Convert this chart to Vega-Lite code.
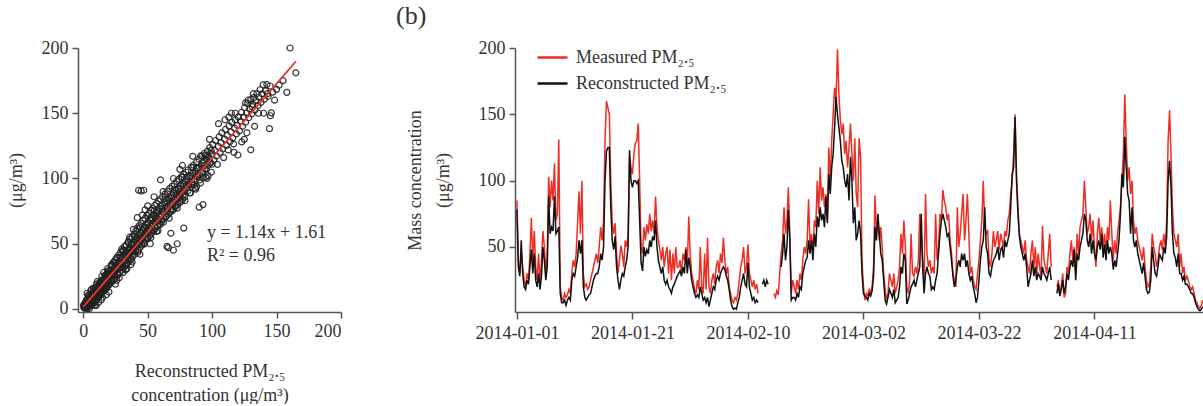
{
"$schema":"https://vega.github.io/schema/vega-lite/v6.json",
"padding":{"left":7,"top":3,"right":0,"bottom":0},
"config":{"font":"Liberation Serif","view":{"stroke":null},
"axis":{"grid":false,"labelFont":"Liberation Serif","labelFontSize":18,"labelColor":"#333","titleFont":"Liberation Serif","titleFontSize":18,"titleFontWeight":"normal","titleColor":"#333","domainColor":"#555","domainWidth":1.5,"tickColor":"#555","tickWidth":1.5,"tickSize":6,"labelPadding":4}},
"datasets":{
"scatter":[
{"x":0.5,"y":1.2},{"x":0.8,"y":3.5},{"x":1.2,"y":0.6},{"x":1.5,"y":4.8},{"x":1.9,"y":2.2},{"x":2.3,"y":6.1},{"x":2.6,"y":1.4},{"x":2.9,"y":3.9},{"x":3.1,"y":7.5},{"x":3.4,"y":2.8},{"x":3.8,"y":5.2},{"x":4.1,"y":1.9},{"x":4.4,"y":8.3},{"x":4.7,"y":4.4},{"x":5.0,"y":6.9},{"x":5.3,"y":3.1},{"x":5.6,"y":9.6},{"x":5.9,"y":5.5},{"x":6.2,"y":2.7},{"x":6.5,"y":8.1},{"x":6.8,"y":10.9},{"x":7.1,"y":5.9},{"x":7.4,"y":3.6},{"x":7.7,"y":9.2},{"x":8.0,"y":7.4},{"x":8.3,"y":12.6},{"x":8.6,"y":4.9},{"x":8.9,"y":10.1},{"x":9.2,"y":8.0},{"x":9.5,"y":13.8},{"x":9.8,"y":6.2},{"x":10.1,"y":11.7},{"x":10.4,"y":9.3},{"x":10.7,"y":15.2},{"x":11.0,"y":7.8},{"x":11.3,"y":13.4},{"x":11.6,"y":11.0},{"x":11.9,"y":16.9},{"x":12.2,"y":9.5},{"x":12.5,"y":14.1},{"x":12.8,"y":12.3},{"x":13.1,"y":18.5},{"x":13.4,"y":10.7},{"x":13.7,"y":16.2},{"x":14.0,"y":13.9},{"x":14.3,"y":20.4},{"x":14.6,"y":12.2},{"x":14.9,"y":17.6},{"x":15.2,"y":15.4},{"x":15.5,"y":22.1},{"x":15.8,"y":13.6},{"x":16.1,"y":19.8},{"x":16.4,"y":16.7},{"x":16.7,"y":23.5},{"x":17.0,"y":15.1},{"x":17.3,"y":21.2},{"x":17.6,"y":18.3},{"x":17.9,"y":25.4},{"x":18.2,"y":16.0},{"x":18.5,"y":22.7},{"x":18.8,"y":20.1},{"x":19.1,"y":27.2},{"x":19.4,"y":17.8},{"x":19.7,"y":24.0},{"x":20.0,"y":21.6},
{"x":3,"y":12},{"x":6,"y":14},{"x":9,"y":3},{"x":12,"y":5},{"x":15,"y":9},{"x":18,"y":11},{"x":5,"y":0.5},{"x":10,"y":2.5},{"x":14,"y":7},{"x":20,"y":13},{"x":8,"y":16},{"x":16,"y":28},{"x":19,"y":31},{"x":11,"y":21},
{"x":0.3,"y":2.9},{"x":1.0,"y":1.0},{"x":1.7,"y":3.3},{"x":2.1,"y":0.8},{"x":2.4,"y":4.0},{"x":3.6,"y":4.4},{"x":4.9,"y":10.6},{"x":5.5,"y":7.0},{"x":6.9,"y":6.8},{"x":7.5,"y":13.1},{"x":8.7,"y":9.4},{"x":9.9,"y":15.8},{"x":10.6,"y":10.5},{"x":11.5,"y":18.2},{"x":12.3,"y":13.8},{"x":13.5,"y":13.0},{"x":14.2,"y":22.0},{"x":15.4,"y":19.0},{"x":16.0,"y":16.0},{"x":17.2,"y":26.0},{"x":18.4,"y":18.8},{"x":19.9,"y":19.0},{"x":3.3,"y":0.5},{"x":4.8,"y":2.5},{"x":6.6,"y":4.5},{"x":8.1,"y":6.3},{"x":9.4,"y":12.8},{"x":11.8,"y":8.9},{"x":13.3,"y":20.7},{"x":16.6,"y":14.3},{"x":18.9,"y":28.1},
{"x":2.7,"y":7.0},{"x":3.0,"y":1.9},{"x":3.9,"y":10.5},{"x":4.4,"y":5.7},{"x":5.0,"y":7.7},{"x":5.2,"y":2.9},{"x":6.0,"y":11.4},{"x":6.4,"y":15.1},{"x":7.2,"y":7.6},{"x":7.8,"y":11.8},{"x":8.3,"y":7.1},{"x":9.1,"y":15.6},{"x":9.6,"y":11.9},{"x":10.3,"y":19.1},{"x":10.9,"y":11.2},{"x":11.2,"y":16.7},{"x":12.0,"y":11.0},{"x":12.7,"y":19.9},{"x":13.1,"y":16.7},{"x":13.9,"y":14.1},{"x":14.5,"y":25.1},{"x":15.0,"y":17.2},{"x":15.7,"y":22.1},{"x":16.2,"y":15.1},{"x":16.9,"y":25.3},{"x":17.5,"y":20.9},{"x":18.0,"y":24.0},{"x":18.8,"y":19.1},{"x":19.3,"y":29.3},{"x":20.0,"y":22.4},
{"x":20.6,"y":26.0},{"x":21.3,"y":29.4},{"x":21.9,"y":21.8},{"x":22.4,"y":33.7},{"x":23.0,"y":26.7},{"x":23.8,"y":30.9},{"x":24.5,"y":25.8},{"x":25.0,"y":35.0},{"x":25.6,"y":30.5},{"x":26.3,"y":39.6},{"x":26.9,"y":26.8},{"x":27.4,"y":34.2},{"x":28.1,"y":31.2},{"x":28.8,"y":39.7},{"x":29.2,"y":34.4},{"x":30.0,"y":38.9},{"x":30.7,"y":32.2},{"x":31.1,"y":44.3},{"x":31.9,"y":36.2},{"x":32.5,"y":41.4},{"x":33.2,"y":33.3},{"x":33.7,"y":44.0},{"x":34.4,"y":41.4},{"x":35.0,"y":51.0},{"x":35.6,"y":39.2},{"x":36.3,"y":44.9},{"x":36.9,"y":38.3},{"x":37.4,"y":50.3},{"x":38.1,"y":44.1},{"x":38.7,"y":49.0},{"x":39.3,"y":43.7},{"x":40.0,"y":55.6},
{"x":40.6,"y":43.7},{"x":41.3,"y":49.7},{"x":41.9,"y":54.4},{"x":42.5,"y":43.5},{"x":43.2,"y":53.3},{"x":43.8,"y":50.2},{"x":44.4,"y":62.4},{"x":45.1,"y":49.6},{"x":45.7,"y":57.8},{"x":46.2,"y":54.1},{"x":46.9,"y":61.9},{"x":47.5,"y":49.9},{"x":48.1,"y":58.4},{"x":48.8,"y":55.1},{"x":49.3,"y":65.5},{"x":50.0,"y":54.1},{"x":50.7,"y":62.8},{"x":51.2,"y":59.6},{"x":51.9,"y":69.8},{"x":52.5,"y":54.7},{"x":53.1,"y":63.6},{"x":53.8,"y":68.5},{"x":54.4,"y":60.5},{"x":55.1,"y":75.4},{"x":55.7,"y":63.4},{"x":56.3,"y":69.7},{"x":57.0,"y":59.4},{"x":57.6,"y":73.6},{"x":58.3,"y":67.3},{"x":58.9,"y":71.5},{"x":59.6,"y":64.6},
{"x":60.2,"y":78.8},{"x":60.9,"y":68.7},{"x":61.5,"y":76.4},{"x":62.2,"y":66.5},{"x":62.8,"y":74.4},{"x":63.5,"y":84.5},{"x":64.1,"y":70.9},{"x":64.8,"y":78.5},{"x":65.4,"y":75.2},{"x":66.1,"y":84.1},{"x":66.7,"y":69.6},{"x":67.4,"y":80.6},{"x":68.0,"y":76.5},{"x":68.7,"y":85.3},{"x":69.3,"y":75.5},{"x":70.0,"y":81.7},{"x":70.8,"y":91.7},{"x":71.5,"y":79.1},{"x":72.3,"y":87.7},{"x":73.0,"y":77.3},{"x":73.8,"y":91.7},{"x":74.5,"y":85.1},{"x":75.3,"y":90.0},{"x":76.0,"y":82.5},{"x":76.8,"y":101.0},{"x":77.5,"y":87.1},{"x":78.3,"y":95.3},{"x":79.0,"y":83.1},{"x":79.8,"y":94.4},
{"x":80.5,"y":101.3},{"x":81.3,"y":90.7},{"x":82.0,"y":95.7},{"x":82.8,"y":89.1},{"x":83.5,"y":102.0},{"x":84.3,"y":95.8},{"x":85.0,"y":108.3},{"x":85.8,"y":95.0},{"x":86.5,"y":102.7},{"x":87.3,"y":91.8},{"x":88.0,"y":108.3},{"x":88.8,"y":102.0},{"x":89.5,"y":107.5},{"x":90.3,"y":98.9},{"x":91.0,"y":117.3},{"x":91.8,"y":103.9},{"x":92.5,"y":111.9},{"x":93.3,"y":100.7},{"x":94.0,"y":109.9},{"x":94.8,"y":117.8},{"x":95.5,"y":107.3},{"x":96.3,"y":117.3},{"x":97.0,"y":102.2},{"x":97.8,"y":115.1},{"x":98.5,"y":112.3},{"x":99.3,"y":121.5},{"x":100.0,"y":110.9},
{"x":20.3,"y":26.5},{"x":20.7,"y":19.2},{"x":21.1,"y":29.8},{"x":21.4,"y":23.0},{"x":21.8,"y":33.1},{"x":22.2,"y":25.4},{"x":22.5,"y":20.9},{"x":22.9,"y":28.7},{"x":23.3,"y":35.6},{"x":23.6,"y":27.1},{"x":24.0,"y":22.8},{"x":24.3,"y":31.5},{"x":24.7,"y":37.4},{"x":25.1,"y":29.2},{"x":25.4,"y":24.6},{"x":25.8,"y":33.9},{"x":26.2,"y":39.0},{"x":26.5,"y":30.8},{"x":26.9,"y":26.1},{"x":27.3,"y":35.7},{"x":27.6,"y":41.3},{"x":28.0,"y":32.5},{"x":28.4,"y":28.0},{"x":28.7,"y":37.2},{"x":29.1,"y":43.6},{"x":29.5,"y":34.4},{"x":29.8,"y":29.7},{"x":30.2,"y":39.5},{"x":30.6,"y":45.1},{"x":30.9,"y":36.0},{"x":31.3,"y":31.2},{"x":31.7,"y":41.4},{"x":32.0,"y":47.8},{"x":32.4,"y":37.9},{"x":32.8,"y":33.5},{"x":33.1,"y":43.0},{"x":33.5,"y":49.2},{"x":33.9,"y":39.6},{"x":34.2,"y":35.1},{"x":34.6,"y":45.3},{"x":35.0,"y":51.7},{"x":35.3,"y":41.2},{"x":35.7,"y":36.4},{"x":36.1,"y":47.0},{"x":36.4,"y":53.6},{"x":36.8,"y":43.5},{"x":37.2,"y":38.2},{"x":37.5,"y":48.8},{"x":37.9,"y":55.0},{"x":38.3,"y":45.1},{"x":38.6,"y":40.3},{"x":39.0,"y":50.9},{"x":39.4,"y":57.2},{"x":39.7,"y":46.8},{"x":40.0,"y":42.1},
{"x":22,"y":34},{"x":25,"y":19},{"x":28,"y":24},{"x":31,"y":28},{"x":34,"y":31},{"x":37,"y":34},{"x":24,"y":36},{"x":30,"y":46},{"x":36,"y":55},{"x":39,"y":61},{"x":26,"y":22},{"x":33,"y":30},{"x":38,"y":36},
{"x":40.4,"y":52.3},{"x":40.8,"y":59.5},{"x":41.2,"y":48.1},{"x":41.5,"y":54.6},{"x":41.9,"y":61.8},{"x":42.3,"y":50.2},{"x":42.7,"y":44.9},{"x":43.0,"y":56.4},{"x":43.4,"y":63.7},{"x":43.8,"y":52.0},{"x":44.2,"y":47.3},{"x":44.5,"y":58.1},{"x":44.9,"y":65.5},{"x":45.3,"y":54.1},{"x":45.7,"y":49.0},{"x":46.0,"y":60.2},{"x":46.4,"y":67.9},{"x":46.8,"y":56.0},{"x":47.2,"y":50.8},{"x":47.5,"y":62.3},{"x":47.9,"y":69.4},{"x":48.3,"y":57.7},{"x":48.7,"y":52.9},{"x":49.0,"y":64.0},{"x":49.4,"y":71.6},{"x":49.8,"y":59.9},{"x":50.2,"y":54.5},{"x":50.5,"y":66.1},{"x":50.9,"y":73.2},{"x":51.3,"y":61.6},{"x":51.7,"y":56.3},{"x":52.0,"y":67.9},{"x":52.4,"y":75.5},{"x":52.8,"y":63.4},{"x":53.2,"y":58.2},{"x":53.5,"y":69.8},{"x":53.9,"y":77.0},{"x":54.3,"y":65.3},{"x":54.7,"y":60.0},{"x":55.0,"y":71.5},{"x":55.4,"y":79.3},{"x":55.8,"y":67.1},{"x":56.2,"y":61.7},{"x":56.5,"y":73.6},{"x":56.9,"y":80.8},{"x":57.3,"y":68.9},{"x":57.7,"y":63.5},{"x":58.0,"y":75.2},{"x":58.4,"y":82.7},{"x":58.8,"y":70.8},{"x":59.2,"y":65.4},{"x":59.5,"y":77.1},{"x":59.9,"y":84.3},
{"x":43,"y":91},{"x":45,"y":90.5},{"x":47,"y":91},{"x":60,"y":99},{"x":42,"y":70},{"x":48,"y":76},{"x":55,"y":86},{"x":44,"y":42},{"x":52,"y":50},{"x":58,"y":60},{"x":46,"y":72},{"x":50,"y":79},
{"x":60.3,"y":72.6},{"x":60.8,"y":67.0},{"x":61.2,"y":79.4},{"x":61.7,"y":86.2},{"x":62.1,"y":74.4},{"x":62.6,"y":69.1},{"x":63.0,"y":81.3},{"x":63.5,"y":88.0},{"x":63.9,"y":76.5},{"x":64.4,"y":70.8},{"x":64.8,"y":83.0},{"x":65.3,"y":90.1},{"x":65.7,"y":78.2},{"x":66.2,"y":72.7},{"x":66.6,"y":85.1},{"x":67.1,"y":92.3},{"x":67.5,"y":80.0},{"x":68.0,"y":74.5},{"x":68.4,"y":86.9},{"x":68.9,"y":94.0},{"x":69.3,"y":81.8},{"x":69.8,"y":76.3},{"x":70.2,"y":88.7},{"x":70.7,"y":95.6},{"x":71.1,"y":83.9},{"x":71.6,"y":78.4},{"x":72.0,"y":90.5},{"x":72.5,"y":97.8},{"x":72.9,"y":85.6},{"x":73.4,"y":80.1},{"x":73.8,"y":92.4},{"x":74.3,"y":99.5},{"x":74.7,"y":87.4},{"x":75.2,"y":81.9},{"x":75.6,"y":94.2},{"x":76.1,"y":101.3},{"x":76.5,"y":89.2},{"x":77.0,"y":84.0},{"x":77.4,"y":96.0},{"x":77.9,"y":103.1},{"x":78.3,"y":91.0},{"x":78.8,"y":85.7},{"x":79.2,"y":97.9},{"x":79.7,"y":104.8},
{"x":65,"y":48},{"x":70,"y":45},{"x":73,"y":50},{"x":66,"y":47},{"x":78,"y":62},{"x":68,"y":58},{"x":75,"y":107},{"x":62,"y":90},{"x":70,"y":100},{"x":77,"y":110},
{"x":80.2,"y":93.0},{"x":80.8,"y":99.8},{"x":81.4,"y":106.5},{"x":82.0,"y":95.2},{"x":82.6,"y":101.6},{"x":83.2,"y":88.9},{"x":83.8,"y":108.7},{"x":84.4,"y":97.3},{"x":85.0,"y":103.9},{"x":85.6,"y":110.2},{"x":86.2,"y":99.0},{"x":86.8,"y":92.8},{"x":87.4,"y":105.7},{"x":88.0,"y":112.6},{"x":88.6,"y":101.2},{"x":89.2,"y":107.9},{"x":89.8,"y":114.8},{"x":90.4,"y":103.0},{"x":91.0,"y":96.5},{"x":91.6,"y":110.0},{"x":92.2,"y":117.1},{"x":92.8,"y":105.4},{"x":93.4,"y":112.3},{"x":94.0,"y":119.2},{"x":94.6,"y":107.6},{"x":95.2,"y":101.0},{"x":95.8,"y":114.5},{"x":96.4,"y":121.0},{"x":97.0,"y":110.1},{"x":97.6,"y":116.4},{"x":98.2,"y":123.7},{"x":98.8,"y":112.0},{"x":99.4,"y":104.8},{"x":100.0,"y":118.9},
{"x":90,"y":78},{"x":93,"y":80},{"x":85,"y":117},{"x":98,"y":130},{"x":88,"y":94},{"x":96,"y":100},
{"x":100.6,"y":126.0},{"x":101.3,"y":114.3},{"x":102.0,"y":121.5},{"x":102.7,"y":129.1},{"x":103.4,"y":117.2},{"x":104.1,"y":110.8},{"x":104.8,"y":124.6},{"x":105.5,"y":131.9},{"x":106.2,"y":120.0},{"x":106.9,"y":127.5},{"x":107.6,"y":135.0},{"x":108.3,"y":122.6},{"x":109.0,"y":116.0},{"x":109.7,"y":130.2},{"x":110.4,"y":137.6},{"x":111.1,"y":125.4},{"x":111.8,"y":133.0},{"x":112.5,"y":121.9},{"x":113.2,"y":140.3},{"x":113.9,"y":128.3},{"x":114.6,"y":135.7},{"x":115.3,"y":143.0},{"x":116.0,"y":131.0},{"x":116.7,"y":126.4},{"x":117.4,"y":138.6},{"x":118.1,"y":144.9},{"x":118.8,"y":134.2},{"x":119.5,"y":140.8},
{"x":120,"y":118},{"x":117,"y":120},{"x":105,"y":142},{"x":110,"y":145},{"x":115,"y":150},{"x":113,"y":147},{"x":118,"y":150},
{"x":120.4,"y":147.2},{"x":121.2,"y":136.5},{"x":122.0,"y":143.8},{"x":122.8,"y":150.6},{"x":123.6,"y":140.0},{"x":124.4,"y":147.0},{"x":125.2,"y":154.4},{"x":126.0,"y":143.1},{"x":126.8,"y":150.2},{"x":127.6,"y":157.6},{"x":128.4,"y":146.5},{"x":129.2,"y":153.3},{"x":130.0,"y":160.4},{"x":130.8,"y":149.6},{"x":131.6,"y":156.8},{"x":132.4,"y":162.0},{"x":133.2,"y":152.5},{"x":134.0,"y":159.7},{"x":134.8,"y":165.1},{"x":135.6,"y":155.9},{"x":136.4,"y":162.3},{"x":137.2,"y":168.0},{"x":138.0,"y":158.4},{"x":138.8,"y":164.9},{"x":139.6,"y":171.8},
{"x":130,"y":122},{"x":125,"y":130},{"x":123,"y":128},{"x":127,"y":135},{"x":133,"y":140},{"x":131,"y":155},{"x":128,"y":160},{"x":136,"y":150},{"x":126,"y":158},{"x":132,"y":165},
{"x":140.5,"y":160.8},{"x":141.5,"y":167.2},{"x":142.5,"y":172.0},{"x":143.5,"y":163.0},{"x":144.5,"y":138.2},{"x":145.2,"y":148.1},{"x":146.0,"y":150.3},{"x":145.0,"y":170.9},{"x":147.0,"y":166.2},{"x":148.5,"y":160.0},{"x":150.0,"y":168.3},{"x":152.0,"y":171.5},{"x":155.0,"y":175.0},{"x":158.0,"y":166.0},{"x":165.0,"y":181.0},{"x":160.5,"y":200.0},{"x":143,"y":165},{"x":140,"y":150}
],
"ts":[
{"t":"2014-01-01T00:00","m":85,"r":78},{"t":"2014-01-01T06:00","m":40,"r":35},{"t":"2014-01-01T12:00","m":30,"r":28},{"t":"2014-01-01T18:00","m":45,"r":55},
{"t":"2014-01-02T00:00","m":35,"r":30},{"t":"2014-01-02T06:00","m":25,"r":20},{"t":"2014-01-02T12:00","m":20,"r":18},{"t":"2014-01-02T18:00","m":30,"r":25},
{"t":"2014-01-03T00:00","m":25,"r":22},{"t":"2014-01-03T06:00","m":45,"r":35},{"t":"2014-01-03T12:00","m":72,"r":48},{"t":"2014-01-03T18:00","m":40,"r":30},
{"t":"2014-01-04T00:00","m":62,"r":45},{"t":"2014-01-04T06:00","m":35,"r":25},{"t":"2014-01-04T12:00","m":25,"r":20},{"t":"2014-01-04T18:00","m":45,"r":30},
{"t":"2014-01-05T00:00","m":22,"r":18},{"t":"2014-01-05T06:00","m":40,"r":28},{"t":"2014-01-05T12:00","m":62,"r":50},{"t":"2014-01-05T18:00","m":50,"r":40},
{"t":"2014-01-06T00:00","m":30,"r":25},{"t":"2014-01-06T06:00","m":45,"r":35},{"t":"2014-01-06T12:00","m":103,"r":88},{"t":"2014-01-06T18:00","m":80,"r":60},
{"t":"2014-01-07T00:00","m":100,"r":65},{"t":"2014-01-07T06:00","m":85,"r":62},{"t":"2014-01-07T12:00","m":113,"r":88},{"t":"2014-01-07T18:00","m":70,"r":60},
{"t":"2014-01-08T00:00","m":75,"r":62},{"t":"2014-01-08T06:00","m":131,"r":65},{"t":"2014-01-08T12:00","m":20,"r":15},{"t":"2014-01-08T18:00","m":12,"r":8},
{"t":"2014-01-09T00:00","m":10,"r":8},{"t":"2014-01-09T06:00","m":15,"r":10},{"t":"2014-01-09T12:00","m":12,"r":6},{"t":"2014-01-09T18:00","m":14,"r":10},
{"t":"2014-01-10T00:00","m":18,"r":12},{"t":"2014-01-10T06:00","m":15,"r":10},{"t":"2014-01-10T12:00","m":30,"r":25},{"t":"2014-01-10T18:00","m":40,"r":30},
{"t":"2014-01-11T00:00","m":35,"r":28},{"t":"2014-01-11T06:00","m":45,"r":35},{"t":"2014-01-11T12:00","m":68,"r":42},{"t":"2014-01-11T18:00","m":92,"r":55},
{"t":"2014-01-12T00:00","m":60,"r":45},{"t":"2014-01-12T06:00","m":100,"r":55},{"t":"2014-01-12T12:00","m":30,"r":20},{"t":"2014-01-12T18:00","m":20,"r":12},
{"t":"2014-01-13T00:00","m":22,"r":10},{"t":"2014-01-13T06:00","m":18,"r":12},{"t":"2014-01-13T12:00","m":20,"r":14},{"t":"2014-01-13T18:00","m":25,"r":15},
{"t":"2014-01-14T00:00","m":30,"r":20},{"t":"2014-01-14T06:00","m":35,"r":25},{"t":"2014-01-14T12:00","m":40,"r":28},{"t":"2014-01-14T18:00","m":45,"r":30},
{"t":"2014-01-15T00:00","m":38,"r":30},{"t":"2014-01-15T06:00","m":50,"r":35},{"t":"2014-01-15T12:00","m":65,"r":45},{"t":"2014-01-15T18:00","m":55,"r":40},
{"t":"2014-01-16T00:00","m":70,"r":50},{"t":"2014-01-16T06:00","m":130,"r":100},{"t":"2014-01-16T12:00","m":160,"r":122},{"t":"2014-01-16T18:00","m":155,"r":125},
{"t":"2014-01-17T00:00","m":150,"r":125},{"t":"2014-01-17T06:00","m":100,"r":80},{"t":"2014-01-17T12:00","m":68,"r":55},{"t":"2014-01-17T18:00","m":60,"r":48},
{"t":"2014-01-18T00:00","m":68,"r":58},{"t":"2014-01-18T06:00","m":45,"r":35},{"t":"2014-01-18T12:00","m":30,"r":25},{"t":"2014-01-18T18:00","m":40,"r":18},
{"t":"2014-01-19T00:00","m":51,"r":25},{"t":"2014-01-19T06:00","m":45,"r":30},{"t":"2014-01-19T12:00","m":35,"r":28},{"t":"2014-01-19T18:00","m":55,"r":35},
{"t":"2014-01-20T00:00","m":50,"r":40},{"t":"2014-01-20T06:00","m":60,"r":50},{"t":"2014-01-20T12:00","m":118,"r":123},{"t":"2014-01-20T18:00","m":110,"r":100},
{"t":"2014-01-21T00:00","m":105,"r":95},{"t":"2014-01-21T06:00","m":120,"r":100},{"t":"2014-01-21T12:00","m":128,"r":100},{"t":"2014-01-21T18:00","m":130,"r":98},
{"t":"2014-01-22T00:00","m":143,"r":100},{"t":"2014-01-22T06:00","m":100,"r":70},{"t":"2014-01-22T12:00","m":50,"r":38},{"t":"2014-01-22T18:00","m":45,"r":32},
{"t":"2014-01-23T00:00","m":65,"r":50},{"t":"2014-01-23T06:00","m":55,"r":43},{"t":"2014-01-23T12:00","m":67,"r":48},{"t":"2014-01-23T18:00","m":60,"r":45},
{"t":"2014-01-24T00:00","m":75,"r":55},{"t":"2014-01-24T06:00","m":62,"r":50},{"t":"2014-01-24T12:00","m":70,"r":58},{"t":"2014-01-24T18:00","m":60,"r":55},
{"t":"2014-01-25T00:00","m":88,"r":70},{"t":"2014-01-25T06:00","m":65,"r":50},{"t":"2014-01-25T12:00","m":55,"r":40},{"t":"2014-01-25T18:00","m":48,"r":35},
{"t":"2014-01-26T00:00","m":40,"r":30},{"t":"2014-01-26T06:00","m":50,"r":35},{"t":"2014-01-26T12:00","m":35,"r":25},{"t":"2014-01-26T18:00","m":45,"r":22},
{"t":"2014-01-27T00:00","m":50,"r":25},{"t":"2014-01-27T06:00","m":30,"r":20},{"t":"2014-01-27T12:00","m":48,"r":18},{"t":"2014-01-27T18:00","m":25,"r":15},
{"t":"2014-01-28T00:00","m":45,"r":20},{"t":"2014-01-28T06:00","m":30,"r":22},{"t":"2014-01-28T12:00","m":50,"r":25},{"t":"2014-01-28T18:00","m":35,"r":28},
{"t":"2014-01-29T00:00","m":35,"r":30},{"t":"2014-01-29T06:00","m":40,"r":32},{"t":"2014-01-29T12:00","m":30,"r":28},{"t":"2014-01-29T18:00","m":45,"r":35},
{"t":"2014-01-30T00:00","m":40,"r":30},{"t":"2014-01-30T06:00","m":50,"r":48},{"t":"2014-01-30T12:00","m":35,"r":30},{"t":"2014-01-30T18:00","m":73,"r":42},
{"t":"2014-01-31T00:00","m":45,"r":35},{"t":"2014-01-31T06:00","m":30,"r":25},{"t":"2014-01-31T12:00","m":25,"r":20},{"t":"2014-01-31T18:00","m":18,"r":15},
{"t":"2014-02-01T00:00","m":15,"r":12},{"t":"2014-02-01T06:00","m":25,"r":14},{"t":"2014-02-01T12:00","m":18,"r":12},{"t":"2014-02-01T18:00","m":50,"r":20},
{"t":"2014-02-02T00:00","m":20,"r":15},{"t":"2014-02-02T06:00","m":15,"r":10},{"t":"2014-02-02T12:00","m":45,"r":12},{"t":"2014-02-02T18:00","m":18,"r":8},
{"t":"2014-02-03T00:00","m":57,"r":12},{"t":"2014-02-03T06:00","m":20,"r":5},{"t":"2014-02-03T12:00","m":15,"r":10},{"t":"2014-02-03T18:00","m":25,"r":15},
{"t":"2014-02-04T00:00","m":30,"r":20},{"t":"2014-02-04T06:00","m":22,"r":18},{"t":"2014-02-04T12:00","m":35,"r":25},{"t":"2014-02-04T18:00","m":40,"r":28},
{"t":"2014-02-05T00:00","m":30,"r":25},{"t":"2014-02-05T06:00","m":45,"r":30},{"t":"2014-02-05T12:00","m":38,"r":33},{"t":"2014-02-05T18:00","m":57,"r":35},
{"t":"2014-02-06T00:00","m":40,"r":33},{"t":"2014-02-06T06:00","m":30,"r":28},{"t":"2014-02-06T12:00","m":35,"r":25},{"t":"2014-02-06T18:00","m":20,"r":18},
{"t":"2014-02-07T00:00","m":15,"r":10},{"t":"2014-02-07T06:00","m":10,"r":5},{"t":"2014-02-07T12:00","m":8,"r":3},{"t":"2014-02-07T18:00","m":12,"r":4},
{"t":"2014-02-08T00:00","m":10,"r":3},{"t":"2014-02-08T06:00","m":15,"r":8},{"t":"2014-02-08T12:00","m":25,"r":12},{"t":"2014-02-08T18:00","m":35,"r":20},
{"t":"2014-02-09T00:00","m":40,"r":25},{"t":"2014-02-09T06:00","m":50,"r":30},{"t":"2014-02-09T12:00","m":30,"r":22},{"t":"2014-02-09T18:00","m":35,"r":20},
{"t":"2014-02-10T00:00","m":52,"r":38},{"t":"2014-02-10T06:00","m":30,"r":20},{"t":"2014-02-10T12:00","m":25,"r":15},{"t":"2014-02-10T18:00","m":20,"r":10},
{"t":"2014-02-11T00:00","m":25,"r":12},{"t":"2014-02-11T06:00","m":18,"r":8},{"t":"2014-02-11T12:00","m":22,"r":10},{"t":"2014-02-11T18:00","m":15,"r":8},
{"t":"2014-02-12T00:00","m":null,"r":null},{"t":"2014-02-12T06:00","m":null,"r":null},{"t":"2014-02-12T12:00","m":null,"r":22},{"t":"2014-02-12T18:00","m":null,"r":25},
{"t":"2014-02-13T00:00","m":null,"r":20},{"t":"2014-02-13T06:00","m":null,"r":25},{"t":"2014-02-13T12:00","m":null,"r":22},{"t":"2014-02-13T18:00","m":null,"r":null},
{"t":"2014-02-14T00:00","m":null,"r":null},{"t":"2014-02-14T06:00","m":null,"r":null},{"t":"2014-02-14T12:00","m":15,"r":null},{"t":"2014-02-14T18:00","m":12,"r":null},
{"t":"2014-02-15T00:00","m":17,"r":null},{"t":"2014-02-15T06:00","m":14,"r":null},{"t":"2014-02-15T12:00","m":30,"r":null},{"t":"2014-02-15T18:00","m":45,"r":35},
{"t":"2014-02-16T00:00","m":55,"r":45},{"t":"2014-02-16T06:00","m":80,"r":60},{"t":"2014-02-16T12:00","m":60,"r":40},{"t":"2014-02-16T18:00","m":70,"r":50},
{"t":"2014-02-17T00:00","m":95,"r":78},{"t":"2014-02-17T06:00","m":60,"r":55},{"t":"2014-02-17T12:00","m":15,"r":10},{"t":"2014-02-17T18:00","m":25,"r":12},
{"t":"2014-02-18T00:00","m":20,"r":12},{"t":"2014-02-18T06:00","m":15,"r":10},{"t":"2014-02-18T12:00","m":25,"r":15},{"t":"2014-02-18T18:00","m":18,"r":12},
{"t":"2014-02-19T00:00","m":30,"r":20},{"t":"2014-02-19T06:00","m":25,"r":18},{"t":"2014-02-19T12:00","m":40,"r":30},{"t":"2014-02-19T18:00","m":50,"r":35},
{"t":"2014-02-20T00:00","m":45,"r":40},{"t":"2014-02-20T06:00","m":55,"r":42},{"t":"2014-02-20T12:00","m":86,"r":55},{"t":"2014-02-20T18:00","m":50,"r":45},
{"t":"2014-02-21T00:00","m":60,"r":55},{"t":"2014-02-21T06:00","m":45,"r":40},{"t":"2014-02-21T12:00","m":70,"r":60},{"t":"2014-02-21T18:00","m":65,"r":50},
{"t":"2014-02-22T00:00","m":100,"r":73},{"t":"2014-02-22T06:00","m":75,"r":65},{"t":"2014-02-22T12:00","m":110,"r":80},{"t":"2014-02-22T18:00","m":85,"r":70},
{"t":"2014-02-23T00:00","m":95,"r":75},{"t":"2014-02-23T06:00","m":80,"r":65},{"t":"2014-02-23T12:00","m":90,"r":88},{"t":"2014-02-23T18:00","m":70,"r":68},
{"t":"2014-02-24T00:00","m":125,"r":105},{"t":"2014-02-24T06:00","m":100,"r":90},{"t":"2014-02-24T12:00","m":130,"r":110},{"t":"2014-02-24T18:00","m":150,"r":120},
{"t":"2014-02-25T00:00","m":170,"r":140},{"t":"2014-02-25T06:00","m":160,"r":163},{"t":"2014-02-25T12:00","m":199,"r":150},{"t":"2014-02-25T18:00","m":165,"r":140},
{"t":"2014-02-26T00:00","m":146,"r":130},{"t":"2014-02-26T06:00","m":135,"r":115},{"t":"2014-02-26T12:00","m":143,"r":110},{"t":"2014-02-26T18:00","m":120,"r":100},
{"t":"2014-02-27T00:00","m":130,"r":95},{"t":"2014-02-27T06:00","m":110,"r":105},{"t":"2014-02-27T12:00","m":125,"r":85},{"t":"2014-02-27T18:00","m":143,"r":118},
{"t":"2014-02-28T00:00","m":120,"r":100},{"t":"2014-02-28T06:00","m":100,"r":68},{"t":"2014-02-28T12:00","m":132,"r":80},{"t":"2014-02-28T18:00","m":90,"r":55},
{"t":"2014-03-01T00:00","m":80,"r":60},{"t":"2014-03-01T06:00","m":132,"r":70},{"t":"2014-03-01T12:00","m":118,"r":60},{"t":"2014-03-01T18:00","m":40,"r":30},
{"t":"2014-03-02T00:00","m":20,"r":15},{"t":"2014-03-02T06:00","m":10,"r":13},{"t":"2014-03-02T12:00","m":15,"r":12},{"t":"2014-03-02T18:00","m":13,"r":10},
{"t":"2014-03-03T00:00","m":18,"r":15},{"t":"2014-03-03T06:00","m":15,"r":13},{"t":"2014-03-03T12:00","m":20,"r":17},{"t":"2014-03-03T18:00","m":35,"r":28},
{"t":"2014-03-04T00:00","m":89,"r":65},{"t":"2014-03-04T06:00","m":60,"r":55},{"t":"2014-03-04T12:00","m":70,"r":75},{"t":"2014-03-04T18:00","m":55,"r":60},
{"t":"2014-03-05T00:00","m":65,"r":45},{"t":"2014-03-05T06:00","m":50,"r":40},{"t":"2014-03-05T12:00","m":30,"r":25},{"t":"2014-03-05T18:00","m":18,"r":10},
{"t":"2014-03-06T00:00","m":10,"r":7},{"t":"2014-03-06T06:00","m":15,"r":12},{"t":"2014-03-06T12:00","m":30,"r":18},{"t":"2014-03-06T18:00","m":25,"r":15},
{"t":"2014-03-07T00:00","m":20,"r":12},{"t":"2014-03-07T06:00","m":30,"r":18},{"t":"2014-03-07T12:00","m":15,"r":8},{"t":"2014-03-07T18:00","m":20,"r":10},
{"t":"2014-03-08T00:00","m":25,"r":12},{"t":"2014-03-08T06:00","m":35,"r":20},{"t":"2014-03-08T12:00","m":60,"r":35},{"t":"2014-03-08T18:00","m":45,"r":30},
{"t":"2014-03-09T00:00","m":70,"r":45},{"t":"2014-03-09T06:00","m":50,"r":40},{"t":"2014-03-09T12:00","m":20,"r":7},{"t":"2014-03-09T18:00","m":15,"r":10},
{"t":"2014-03-10T00:00","m":25,"r":15},{"t":"2014-03-10T06:00","m":60,"r":20},{"t":"2014-03-10T12:00","m":30,"r":22},{"t":"2014-03-10T18:00","m":28,"r":25},
{"t":"2014-03-11T00:00","m":35,"r":20},{"t":"2014-03-11T06:00","m":30,"r":25},{"t":"2014-03-11T12:00","m":40,"r":30},{"t":"2014-03-11T18:00","m":75,"r":35},
{"t":"2014-03-12T00:00","m":60,"r":75},{"t":"2014-03-12T06:00","m":40,"r":35},{"t":"2014-03-12T12:00","m":25,"r":15},{"t":"2014-03-12T18:00","m":90,"r":30},
{"t":"2014-03-13T00:00","m":45,"r":35},{"t":"2014-03-13T06:00","m":35,"r":30},{"t":"2014-03-13T12:00","m":40,"r":28},{"t":"2014-03-13T18:00","m":30,"r":18},
{"t":"2014-03-14T00:00","m":35,"r":20},{"t":"2014-03-14T06:00","m":30,"r":18},{"t":"2014-03-14T12:00","m":75,"r":25},{"t":"2014-03-14T18:00","m":40,"r":30},
{"t":"2014-03-15T00:00","m":50,"r":45},{"t":"2014-03-15T06:00","m":75,"r":60},{"t":"2014-03-15T12:00","m":70,"r":70},{"t":"2014-03-15T18:00","m":93,"r":75},
{"t":"2014-03-16T00:00","m":85,"r":70},{"t":"2014-03-16T06:00","m":80,"r":65},{"t":"2014-03-16T12:00","m":70,"r":58},{"t":"2014-03-16T18:00","m":75,"r":60},
{"t":"2014-03-17T00:00","m":55,"r":50},{"t":"2014-03-17T06:00","m":45,"r":40},{"t":"2014-03-17T12:00","m":30,"r":28},{"t":"2014-03-17T18:00","m":25,"r":20},
{"t":"2014-03-18T00:00","m":20,"r":25},{"t":"2014-03-18T06:00","m":80,"r":35},{"t":"2014-03-18T12:00","m":50,"r":40},{"t":"2014-03-18T18:00","m":60,"r":35},
{"t":"2014-03-19T00:00","m":75,"r":45},{"t":"2014-03-19T06:00","m":90,"r":40},{"t":"2014-03-19T12:00","m":55,"r":45},{"t":"2014-03-19T18:00","m":70,"r":35},
{"t":"2014-03-20T00:00","m":90,"r":40},{"t":"2014-03-20T06:00","m":60,"r":30},{"t":"2014-03-20T12:00","m":30,"r":25},{"t":"2014-03-20T18:00","m":35,"r":28},
{"t":"2014-03-21T00:00","m":25,"r":20},{"t":"2014-03-21T06:00","m":20,"r":15},{"t":"2014-03-21T12:00","m":18,"r":8},{"t":"2014-03-21T18:00","m":30,"r":12},
{"t":"2014-03-22T00:00","m":40,"r":25},{"t":"2014-03-22T06:00","m":55,"r":40},{"t":"2014-03-22T12:00","m":70,"r":50},{"t":"2014-03-22T18:00","m":100,"r":55},
{"t":"2014-03-23T00:00","m":65,"r":80},{"t":"2014-03-23T06:00","m":60,"r":50},{"t":"2014-03-23T12:00","m":62,"r":45},{"t":"2014-03-23T18:00","m":40,"r":30},
{"t":"2014-03-24T00:00","m":35,"r":28},{"t":"2014-03-24T06:00","m":45,"r":35},{"t":"2014-03-24T12:00","m":62,"r":40},{"t":"2014-03-24T18:00","m":50,"r":42},
{"t":"2014-03-25T00:00","m":55,"r":45},{"t":"2014-03-25T06:00","m":62,"r":50},{"t":"2014-03-25T12:00","m":48,"r":40},{"t":"2014-03-25T18:00","m":60,"r":48},
{"t":"2014-03-26T00:00","m":55,"r":50},{"t":"2014-03-26T06:00","m":50,"r":42},{"t":"2014-03-26T12:00","m":62,"r":55},{"t":"2014-03-26T18:00","m":58,"r":50},
{"t":"2014-03-27T00:00","m":70,"r":55},{"t":"2014-03-27T06:00","m":75,"r":60},{"t":"2014-03-27T12:00","m":90,"r":80},{"t":"2014-03-27T18:00","m":100,"r":105},
{"t":"2014-03-28T00:00","m":120,"r":110},{"t":"2014-03-28T06:00","m":150,"r":148},{"t":"2014-03-28T12:00","m":105,"r":100},{"t":"2014-03-28T18:00","m":80,"r":75},
{"t":"2014-03-29T00:00","m":60,"r":58},{"t":"2014-03-29T06:00","m":55,"r":50},{"t":"2014-03-29T12:00","m":50,"r":45},{"t":"2014-03-29T18:00","m":45,"r":40},
{"t":"2014-03-30T00:00","m":55,"r":45},{"t":"2014-03-30T06:00","m":40,"r":35},{"t":"2014-03-30T12:00","m":35,"r":20},{"t":"2014-03-30T18:00","m":30,"r":25},
{"t":"2014-03-31T00:00","m":45,"r":30},{"t":"2014-03-31T06:00","m":55,"r":40},{"t":"2014-03-31T12:00","m":35,"r":28},{"t":"2014-03-31T18:00","m":50,"r":35},
{"t":"2014-04-01T00:00","m":30,"r":25},{"t":"2014-04-01T06:00","m":45,"r":30},{"t":"2014-04-01T12:00","m":35,"r":28},{"t":"2014-04-01T18:00","m":28,"r":25},
{"t":"2014-04-02T00:00","m":66,"r":35},{"t":"2014-04-02T06:00","m":40,"r":30},{"t":"2014-04-02T12:00","m":35,"r":28},{"t":"2014-04-02T18:00","m":30,"r":25},
{"t":"2014-04-03T00:00","m":45,"r":30},{"t":"2014-04-03T06:00","m":60,"r":35},{"t":"2014-04-03T12:00","m":35,"r":25},{"t":"2014-04-03T18:00","m":null,"r":null},
{"t":"2014-04-04T00:00","m":null,"r":null},{"t":"2014-04-04T06:00","m":null,"r":null},{"t":"2014-04-04T12:00","m":20,"r":15},{"t":"2014-04-04T18:00","m":25,"r":22},
{"t":"2014-04-05T00:00","m":15,"r":13},{"t":"2014-04-05T06:00","m":20,"r":18},{"t":"2014-04-05T12:00","m":30,"r":25},{"t":"2014-04-05T18:00","m":12,"r":15},
{"t":"2014-04-06T00:00","m":15,"r":20},{"t":"2014-04-06T06:00","m":35,"r":30},{"t":"2014-04-06T12:00","m":30,"r":25},{"t":"2014-04-06T18:00","m":45,"r":35},
{"t":"2014-04-07T00:00","m":55,"r":40},{"t":"2014-04-07T06:00","m":40,"r":35},{"t":"2014-04-07T12:00","m":50,"r":48},{"t":"2014-04-07T18:00","m":30,"r":25},
{"t":"2014-04-08T00:00","m":60,"r":45},{"t":"2014-04-08T06:00","m":45,"r":40},{"t":"2014-04-08T12:00","m":65,"r":50},{"t":"2014-04-08T18:00","m":70,"r":55},
{"t":"2014-04-09T00:00","m":75,"r":60},{"t":"2014-04-09T06:00","m":100,"r":75},{"t":"2014-04-09T12:00","m":80,"r":70},{"t":"2014-04-09T18:00","m":60,"r":55},
{"t":"2014-04-10T00:00","m":65,"r":50},{"t":"2014-04-10T06:00","m":75,"r":60},{"t":"2014-04-10T12:00","m":55,"r":45},{"t":"2014-04-10T18:00","m":70,"r":55},
{"t":"2014-04-11T00:00","m":50,"r":45},{"t":"2014-04-11T06:00","m":35,"r":40},{"t":"2014-04-11T12:00","m":60,"r":50},{"t":"2014-04-11T18:00","m":72,"r":55},
{"t":"2014-04-12T00:00","m":55,"r":48},{"t":"2014-04-12T06:00","m":65,"r":60},{"t":"2014-04-12T12:00","m":50,"r":42},{"t":"2014-04-12T18:00","m":60,"r":52},
{"t":"2014-04-13T00:00","m":45,"r":40},{"t":"2014-04-13T06:00","m":65,"r":55},{"t":"2014-04-13T12:00","m":55,"r":45},{"t":"2014-04-13T18:00","m":85,"r":50},
{"t":"2014-04-14T00:00","m":60,"r":45},{"t":"2014-04-14T06:00","m":40,"r":33},{"t":"2014-04-14T12:00","m":55,"r":40},{"t":"2014-04-14T18:00","m":45,"r":35},
{"t":"2014-04-15T00:00","m":60,"r":45},{"t":"2014-04-15T06:00","m":70,"r":55},{"t":"2014-04-15T12:00","m":80,"r":75},{"t":"2014-04-15T18:00","m":100,"r":105},
{"t":"2014-04-16T00:00","m":120,"r":95},{"t":"2014-04-16T06:00","m":165,"r":133},{"t":"2014-04-16T12:00","m":130,"r":110},{"t":"2014-04-16T18:00","m":100,"r":90},
{"t":"2014-04-17T00:00","m":110,"r":85},{"t":"2014-04-17T06:00","m":90,"r":60},{"t":"2014-04-17T12:00","m":100,"r":80},{"t":"2014-04-17T18:00","m":70,"r":55},
{"t":"2014-04-18T00:00","m":60,"r":50},{"t":"2014-04-18T06:00","m":65,"r":55},{"t":"2014-04-18T12:00","m":55,"r":45},{"t":"2014-04-18T18:00","m":50,"r":40},
{"t":"2014-04-19T00:00","m":45,"r":35},{"t":"2014-04-19T06:00","m":40,"r":30},{"t":"2014-04-19T12:00","m":50,"r":38},{"t":"2014-04-19T18:00","m":35,"r":28},
{"t":"2014-04-20T00:00","m":25,"r":18},{"t":"2014-04-20T06:00","m":20,"r":15},{"t":"2014-04-20T12:00","m":22,"r":16},{"t":"2014-04-20T18:00","m":35,"r":25},
{"t":"2014-04-21T00:00","m":60,"r":50},{"t":"2014-04-21T06:00","m":50,"r":40},{"t":"2014-04-21T12:00","m":45,"r":30},{"t":"2014-04-21T18:00","m":35,"r":28},
{"t":"2014-04-22T00:00","m":40,"r":35},{"t":"2014-04-22T06:00","m":50,"r":45},{"t":"2014-04-22T12:00","m":55,"r":42},{"t":"2014-04-22T18:00","m":48,"r":40},
{"t":"2014-04-23T00:00","m":60,"r":50},{"t":"2014-04-23T06:00","m":50,"r":45},{"t":"2014-04-23T12:00","m":70,"r":58},{"t":"2014-04-23T18:00","m":130,"r":100},
{"t":"2014-04-24T00:00","m":153,"r":115},{"t":"2014-04-24T06:00","m":120,"r":95},{"t":"2014-04-24T12:00","m":80,"r":60},{"t":"2014-04-24T18:00","m":60,"r":45},
{"t":"2014-04-25T00:00","m":55,"r":42},{"t":"2014-04-25T06:00","m":50,"r":35},{"t":"2014-04-25T12:00","m":60,"r":45},{"t":"2014-04-25T18:00","m":35,"r":30},
{"t":"2014-04-26T00:00","m":45,"r":30},{"t":"2014-04-26T06:00","m":30,"r":25},{"t":"2014-04-26T12:00","m":35,"r":28},{"t":"2014-04-26T18:00","m":25,"r":22},
{"t":"2014-04-27T00:00","m":28,"r":22},{"t":"2014-04-27T06:00","m":25,"r":20},{"t":"2014-04-27T12:00","m":20,"r":18},{"t":"2014-04-27T18:00","m":18,"r":15},
{"t":"2014-04-28T00:00","m":20,"r":15},{"t":"2014-04-28T06:00","m":15,"r":12},{"t":"2014-04-28T12:00","m":10,"r":8},{"t":"2014-04-28T18:00","m":8,"r":5},
{"t":"2014-04-29T00:00","m":5,"r":3},{"t":"2014-04-29T06:00","m":4,"r":2},{"t":"2014-04-29T12:00","m":6,"r":3},{"t":"2014-04-29T18:00","m":10,"r":5}
]},
"spacing":54,
"hconcat":[
{"width":263,"height":264,
"layer":[
{"data":{"name":"scatter"},
"mark":{"type":"point","shape":"circle","filled":false,"size":36,"strokeWidth":1.2,"color":"#222","opacity":0.9},
"encoding":{
"x":{"field":"x","type":"quantitative","scale":{"domain":[-4,200],"nice":false},"axis":{"values":[0,50,100,150,200],"title":["Reconstructed PM₂.₅","concentration (μg/m³)"],"titlePadding":22,"titleLineHeight":24}},
"y":{"field":"y","type":"quantitative","scale":{"domain":[-2.3,200],"nice":false},"axis":{"values":[0,50,100,150,200],"title":"(μg/m³)","titlePadding":16}}}},
{"data":{"values":[{"x":0,"y":1.61},{"x":165,"y":189.71}]},
"mark":{"type":"line","color":"#e8392c","strokeWidth":1.8},
"encoding":{"x":{"field":"x","type":"quantitative"},"y":{"field":"y","type":"quantitative"}}},
{"data":{"values":[{"x":96,"y":58,"label":"y = 1.14x + 1.61"},{"x":96,"y":40.6,"label":"R² = 0.96"}]},
"mark":{"type":"text","align":"left","baseline":"middle","fontSize":18,"color":"#333","font":"Liberation Serif"},
"encoding":{"x":{"field":"x","type":"quantitative"},"y":{"field":"y","type":"quantitative"},"text":{"field":"label"}}}
]},
{"width":688,"height":264,
"title":{"text":"(b)","anchor":"start","fontSize":26,"fontWeight":"normal","font":"Liberation Serif","color":"#333","dx":-10,"offset":10},
"data":{"name":"ts"},
"transform":[{"fold":["m","r"],"as":["s","v"]}],
"mark":{"type":"line","strokeWidth":1.5,"invalid":"break-paths-show-domains"},
"encoding":{
"x":{"field":"t","type":"temporal","scale":{"domain":[{"year":2013,"month":12,"date":31,"hours":16},{"year":2014,"month":4,"date":29,"hours":19}]},
"axis":{"values":[{"year":2014,"month":1,"date":1},{"year":2014,"month":1,"date":21},{"year":2014,"month":2,"date":10},{"year":2014,"month":3,"date":2},{"year":2014,"month":3,"date":22},{"year":2014,"month":4,"date":11}],"format":"%Y-%m-%d","title":null,"tickSize":7,"labelPadding":5}},
"y":{"field":"v","type":"quantitative","scale":{"domain":[1,200],"nice":false},"axis":{"values":[50,100,150,200],"title":["Mass concentration","(μg/m³)"],"titlePadding":26,"titleLineHeight":28}},
"color":{"field":"s","type":"nominal","scale":{"domain":["m","r"],"range":["#ee2e24","#111111"]},
"legend":{"title":null,"orient":"none","legendX":458,"legendY":-7,"symbolType":"stroke","symbolSize":900,"symbolStrokeWidth":2.5,"labelFontSize":18,"labelFont":"Liberation Serif","labelColor":"#333","labelOffset":7,"rowPadding":-5,"labelExpr":"datum.value == 'm' ? 'Measured PM₂.₅' : 'Reconstructed PM₂.₅'"}}}}
]}
